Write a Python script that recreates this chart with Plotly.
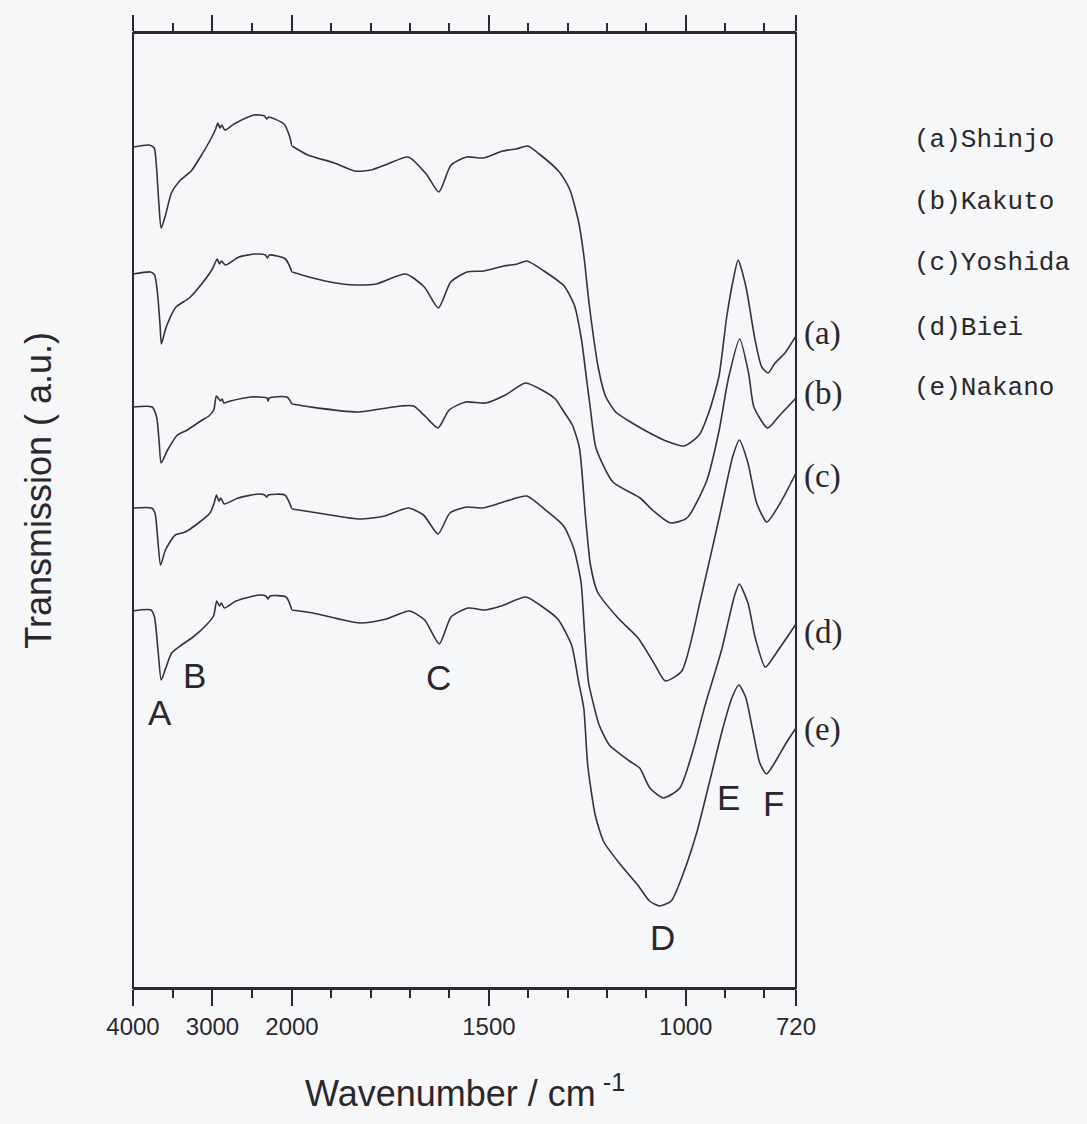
import plotly.graph_objects as go

# ---------------- data (wavenumber in cm^-1, transmission in a.u.) ----------------
wn_a = [4000, 3796, 3733, 3711, 3675, 3646, 3597, 3517, 3414, 3268, 3145, 3021, 2960, 2932, 2907, 2884,
        2843, 2729, 2479, 2344, 2319, 2294, 2100, 2036, 2000, 1960, 1892, 1841, 1799, 1757, 1705, 1659,
        1627, 1596, 1556, 1515, 1465, 1431, 1401, 1372, 1321, 1295, 1272, 1259, 1245, 1222, 1204, 1178,
        1136, 1101, 1050, 1004, 966, 941, 916, 896, 878, 867, 847, 824, 807, 791, 773, 748, 720]
tr_a = [84.1, 84.3, 84.0, 82.8, 78.5, 76.0, 77.1, 79.5, 80.7, 81.7, 83.2, 84.9, 85.9, 86.5, 86.0, 86.3,
        85.8, 86.4, 87.3, 87.2, 86.9, 87.1, 86.4, 85.3, 84.2, 83.3, 82.5, 81.7, 81.8, 82.4, 83.1, 81.4,
        79.6, 82.3, 83.1, 83.0, 83.7, 83.9, 84.2, 83.4, 81.6, 79.9, 76.6, 73.3, 68.3, 62.0, 59.2, 57.6,
        56.5, 55.7, 54.7, 54.2, 55.3, 57.6, 61.1, 67.1, 71.1, 72.8, 70.1, 64.8, 62.1, 61.5, 62.5, 63.5, 65.2]

wn_b = [4000, 3779, 3728, 3692, 3658, 3643, 3582, 3459, 3292, 3127, 3002, 2941, 2912, 2887, 2836, 2669,
        2460, 2334, 2310, 2285, 2082, 2000, 1957, 1889, 1838, 1787, 1711, 1664, 1628, 1597, 1555, 1512,
        1462, 1428, 1403, 1360, 1309, 1283, 1265, 1251, 1242, 1228, 1185, 1116, 1082, 1039, 997, 947,
        915, 892, 863, 840, 827, 792, 763, 720]
tr_b = [71.4, 71.6, 71.3, 69.5, 66.1, 64.4, 66.1, 68.1, 69.0, 70.5, 71.9, 72.9, 72.4, 72.7, 72.3, 73.1,
        73.4, 73.3, 73.0, 73.3, 72.9, 71.6, 71.1, 70.5, 70.3, 70.4, 71.4, 70.1, 68.0, 70.6, 71.6, 71.7,
        72.2, 72.4, 72.7, 71.7, 70.2, 68.3, 64.9, 60.6, 57.9, 54.0, 50.6, 49.0, 47.7, 46.5, 47.0, 50.7,
        55.8, 60.9, 64.9, 61.4, 58.1, 56.0, 57.2, 59.0]

wn_c = [4000, 3760, 3703, 3670, 3646, 3565, 3441, 3316, 3148, 3045, 2984, 2951, 2900, 2878, 2858, 2773,
        2523, 2314, 2300, 2285, 2063, 2000, 1953, 1834, 1724, 1691, 1660, 1629, 1601, 1559, 1508, 1458,
        1407, 1361, 1331, 1314, 1288, 1270, 1255, 1242, 1224, 1172, 1121, 1078, 1052, 1010, 961, 913,
        881, 864, 842, 820, 794, 760, 720]
tr_c = [58.1, 58.1, 57.1, 54.5, 52.5, 53.8, 55.3, 55.8, 56.7, 57.2, 57.8, 59.2, 58.7, 58.9, 58.5, 58.7,
        59.1, 59.0, 58.7, 59.0, 59.1, 58.4, 58.1, 57.6, 58.2, 58.2, 57.1, 56.0, 57.8, 58.6, 58.5, 59.3,
        60.5, 59.7, 58.9, 57.9, 56.3, 54.0, 47.3, 42.3, 39.6, 37.0, 35.0, 32.3, 30.7, 31.7, 39.1, 47.4,
        53.1, 54.8, 52.5, 48.5, 46.6, 48.5, 51.5]

wn_d = [4000, 3766, 3723, 3691, 3653, 3592, 3469, 3343, 3177, 3031, 2979, 2950, 2919, 2895, 2853, 2678,
        2426, 2342, 2320, 2298, 2090, 2000, 1950, 1831, 1764, 1705, 1666, 1629, 1599, 1556, 1514, 1455,
        1404, 1353, 1310, 1284, 1266, 1257, 1247, 1230, 1220, 1194, 1143, 1117, 1091, 1057, 1015, 982,
        950, 909, 877, 864, 842, 824, 798, 765, 720]
tr_d = [48.0, 48.0, 47.5, 45.1, 42.3, 43.8, 45.3, 45.6, 46.5, 47.5, 48.5, 49.3, 48.7, 49.0, 48.4, 49.0,
        49.4, 49.3, 49.1, 49.3, 49.3, 47.9, 47.6, 46.9, 47.2, 48.0, 47.3, 45.4, 47.5, 48.1, 48.0, 48.7,
        49.2, 47.7, 46.2, 43.9, 40.6, 35.6, 30.6, 27.7, 26.3, 24.3, 22.7, 22.0, 20.0, 19.0, 20.0, 23.7,
        28.4, 33.8, 39.1, 40.4, 38.5, 35.1, 32.1, 33.8, 36.4]

wn_e = [4000, 3772, 3730, 3682, 3645, 3596, 3514, 3390, 3244, 3078, 2987, 2947, 2912, 2889, 2850, 2704,
        2412, 2328, 2303, 2278, 2075, 2000, 1947, 1828, 1761, 1702, 1663, 1626, 1596, 1553, 1511, 1469,
        1406, 1367, 1325, 1290, 1272, 1259, 1249, 1230, 1208, 1165, 1122, 1092, 1067, 1037, 1004, 971,
        939, 907, 882, 865, 848, 830, 812, 795, 770, 745, 720]
tr_e = [37.7, 37.8, 37.1, 33.5, 30.8, 31.8, 33.5, 34.3, 35.1, 36.3, 37.2, 38.7, 38.2, 38.5, 38.0, 38.7,
        39.3, 39.2, 38.9, 39.2, 39.1, 37.8, 37.5, 36.5, 36.9, 37.7, 36.8, 34.4, 37.1, 38.0, 37.8, 38.2,
        39.1, 38.2, 36.9, 34.3, 30.6, 28.0, 22.3, 17.3, 14.6, 12.3, 10.3, 8.7, 8.2, 8.7, 11.7, 15.7,
        20.7, 25.8, 29.1, 30.3, 29.1, 25.8, 22.5, 21.4, 22.8, 24.5, 26.0]

curve_tags = ["(a)", "(b)", "(c)", "(d)", "(e)"]
sample_names = ["(a)Shinjo", "(b)Kakuto", "(c)Yoshida", "(d)Biei", "(e)Nakano"]
peak_letters = ["A", "B", "C", "D", "E", "F"]

high_ticks = [4000, 3000]
high_minor = [3500, 2500]
low_ticks = [2000, 1500, 1000, 720]
low_minor = [1900, 1800, 1700, 1600, 1400, 1300, 1200, 1100, 900, 800]

series = [(wn_a, tr_a), (wn_b, tr_b), (wn_c, tr_c), (wn_d, tr_d), (wn_e, tr_e)]

# ---------------- style ----------------
LINE = "#3a2f3b"
FRAME = "#2e2630"
TEXT = "#2b272c"
BG = "#f6f7f9"
SANS = "Liberation Sans, Arial, sans-serif"
SERIF = "Liberation Serif, Times New Roman, serif"
MONO = "Liberation Mono, Courier New, monospace"
BREAK = 0.2398  # fraction of width used by the 4000-2000 segment

fig = go.Figure()
for wn, tr in series:
    hi = [(w, t) for w, t in zip(wn, tr) if w >= 2000]
    lo = [(w, t) for w, t in zip(wn, tr) if w <= 2000]
    for part, xa in ((hi, "x"), (lo, "x2")):
        fig.add_trace(go.Scatter(
            x=[p[0] for p in part], y=[p[1] for p in part],
            xaxis=xa, yaxis="y", mode="lines",
            line=dict(color=LINE, width=1.6, shape="spline", smoothing=0.6),
            showlegend=False, hoverinfo="skip"))

common_x = dict(
    ticks="outside", ticklen=16, tickwidth=2, tickcolor=FRAME,
    showline=True, linewidth=2, linecolor=FRAME, mirror="ticks",
    showgrid=False, zeroline=False, anchor="y",
    tickfont=dict(family=SANS, size=24, color=TEXT),
)
fig.update_layout(
    width=1087, height=1124, autosize=False,
    margin=dict(l=133, r=291, t=33, b=136),
    paper_bgcolor=BG, plot_bgcolor=BG,
    xaxis=dict(domain=[0, BREAK], range=[4000, 2000], tickmode="array",
               tickvals=high_ticks, ticktext=[str(v) for v in high_ticks],
               minor=dict(tickmode="array", tickvals=high_minor, ticks="outside",
                          ticklen=8, tickwidth=2, tickcolor=FRAME, showgrid=False),
               **common_x),
    xaxis2=dict(domain=[BREAK, 1], range=[2000, 720], tickmode="array",
                tickvals=low_ticks, ticktext=[str(v) for v in low_ticks],
                minor=dict(tickmode="array", tickvals=low_minor, ticks="outside",
                           ticklen=8, tickwidth=2, tickcolor=FRAME, showgrid=False),
                **common_x),
    yaxis=dict(domain=[0, 1], range=[0, 95.5], showticklabels=False, ticks="",
               showline=False, showgrid=False, zeroline=False, anchor="x"),
)
fig.add_shape(type="rect", xref="paper", yref="paper", x0=0, x1=1, y0=0, y1=1,
              line=dict(color=FRAME, width=2))

ann = []
ann.append(dict(text="Transmission ( a.u.)", x=-0.143, y=0.521, xref="paper", yref="paper",
                xanchor="center", yanchor="middle",
                textangle=-90, showarrow=False, font=dict(family=SANS, size=36, color=TEXT)))
ann.append(dict(text="Wavenumber / cm<sup> -1</sup>", x=0.5, y=-0.108, xref="paper", yref="paper",
                xanchor="center", yanchor="middle", showarrow=False,
                font=dict(family=SANS, size=36, color=TEXT)))
peak_pos = [(0.041, 0.288), (0.093, 0.327), (0.461, 0.325), (0.799, 0.053), (0.898, 0.200), (0.966, 0.193)]
for letter, (px, py) in zip(peak_letters, peak_pos):
    ann.append(dict(text=letter, x=px, y=py, xref="paper", yref="paper", showarrow=False,
                    xanchor="center", yanchor="middle", font=dict(family=SANS, size=35, color=TEXT)))
tag_y = [0.685, 0.623, 0.536, 0.372, 0.271]
for tag, ty in zip(curve_tags, tag_y):
    ann.append(dict(text=tag, x=1.009, y=ty, xref="paper", yref="paper", showarrow=False,
                    xanchor="left", yanchor="middle", font=dict(family=SERIF, size=33, color=TEXT)))
name_y = [0.888, 0.823, 0.759, 0.691, 0.628]
for nm, ny in zip(sample_names, name_y):
    ann.append(dict(text=nm, x=1.175, y=ny, xref="paper", yref="paper", showarrow=False,
                    xanchor="left", yanchor="middle", font=dict(family=MONO, size=26, color=TEXT)))
fig.update_layout(annotations=ann)

fig.write_html("out.html")
